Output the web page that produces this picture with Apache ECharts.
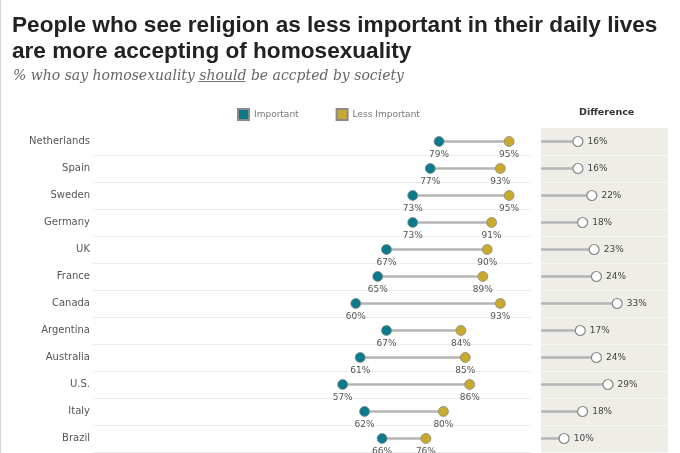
<!DOCTYPE html>
<html>
<head>
<meta charset="utf-8">
<script src="https://cdn.jsdelivr.net/npm/echarts@6/dist/echarts.min.js"></script>
<style>
html,body{margin:0;padding:0;background:#fff;}
#c{width:680px;height:453px;}
</style>
</head>
<body>
<div id="c"></div>
<script>
const countries = ['Netherlands','Spain','Sweden','Germany','UK','France','Canada','Argentina','Australia','U.S.','Italy','Brazil'];
const important = [79,77,73,73,67,65,60,67,61,57,62,66];
const lessImportant = [95,93,95,91,90,89,93,84,85,86,80,76];
const difference = [16,16,22,18,23,24,33,17,24,29,18,10];

const TEAL = '#0b7b8b';
const GOLD = '#c9aa2c';
const SANS = '"DejaVu Sans", Verdana, sans-serif';
const TITLE_FONT = '"Liberation Sans Narrow", "Arial Narrow", Arial, sans-serif';
const SERIF = '"DejaVu Serif", Georgia, serif';

const subA = '% who say homosexuality ';
const subU = 'should';
const subB = ' be accpted by society';
const subSize = 14;
const mctx = document.createElement('canvas').getContext('2d');
mctx.font = 'italic normal ' + subSize + 'px "DejaVu Serif"';
const wA = mctx.measureText(subA).width;
const wU = mctx.measureText(subU).width;
const ulX = 12, ulY = 81.5;

const chart = echarts.init(document.getElementById('c'), null, {renderer:'canvas'});

const connectorData = countries.map((c,i)=>[important[i], lessImportant[i], i]);
const skipTop = function(i){ return i > 0; };

chart.setOption({
  backgroundColor:'#fff',
  animation:false,
  title:[
    {text:'People who see religion as less important in their daily lives\nare more accepting of homosexuality',
     left:7, top:8,
     textStyle:{fontFamily:TITLE_FONT, fontSize:22.6, fontWeight:'bold', color:'#222', lineHeight:26}},
    {text:'{a|' + subA + '}{a|' + subU + '}{a|' + subB + '}',
     left:8, top:64,
     textStyle:{fontWeight:'normal', rich:{a:{fontFamily:SERIF, fontStyle:'italic', fontWeight:'normal', fontSize:subSize, color:'#666'}}}},
    {text:'Difference', left:574, top:103,
     textStyle:{fontFamily:SANS, fontSize:9.5, fontWeight:'bold', color:'#333'}}
  ],
  legend:{
    data:['Important','Less Important'],
    left:232, top:103, icon:'rect', itemWidth:11, itemHeight:11, itemGap:37,
    textStyle:{fontFamily:SANS, fontSize:9, color:'#777'}
  },
  graphic:[
    {type:'line', shape:{x1:ulX+wA, y1:ulY, x2:ulX+wA+wU, y2:ulY}, style:{stroke:'#777', lineWidth:1}},
    {type:'rect', shape:{x:0, y:0, width:1.2, height:453}, style:{fill:'#d8d8d8'}}
  ],
  grid:[
    {left:93, top:128, width:438, height:324, show:false},
    {left:541, top:128, width:127, height:324, show:true, backgroundColor:'#eeede6', borderWidth:0}
  ],
  xAxis:[
    {gridIndex:0, type:'value', min:0, max:100, show:false},
    {gridIndex:1, type:'value', min:0, max:55, show:false}
  ],
  yAxis:[
    {gridIndex:0, type:'category', data:countries, inverse:true,
     axisLine:{show:false}, axisTick:{show:false},
     axisLabel:{fontFamily:SANS, fontSize:10, color:'#555', margin:3},
     splitLine:{show:true, interval:skipTop, lineStyle:{color:'#ececec', width:1}}},
    {gridIndex:1, type:'category', data:countries, inverse:true,
     axisLine:{show:false}, axisTick:{show:false}, axisLabel:{show:false},
     splitLine:{show:true, interval:skipTop, lineStyle:{color:'#f8f8f4', width:1}}}
  ],
  series:[
    {type:'custom', xAxisIndex:0, yAxisIndex:0, silent:true,
     encode:{x:[0,1], y:2},
     data:connectorData,
     renderItem:function(params, api){
       const p1 = api.coord([api.value(0), api.value(2)]);
       const p2 = api.coord([api.value(1), api.value(2)]);
       return {type:'line', shape:{x1:p1[0], y1:p1[1], x2:p2[0], y2:p2[1]},
               style:{stroke:'#b5b5b5', lineWidth:2.5}};
     }},
    {name:'Important', type:'scatter', xAxisIndex:0, yAxisIndex:0,
     symbolSize:10, itemStyle:{color:TEAL, opacity:1, borderColor:'#8a8a8a', borderWidth:0.8},
     label:{show:true, position:'bottom', distance:3, fontFamily:SANS, fontSize:9, color:'#555',
            formatter:p=>p.value[0]+'%'},
     data:countries.map((c,i)=>[important[i], c])},
    {name:'Less Important', type:'scatter', xAxisIndex:0, yAxisIndex:0,
     symbolSize:10, itemStyle:{color:GOLD, opacity:1, borderColor:'#8a8a8a', borderWidth:0.8},
     label:{show:true, position:'bottom', distance:3, fontFamily:SANS, fontSize:9, color:'#555',
            formatter:p=>p.value[0]+'%'},
     data:countries.map((c,i)=>[lessImportant[i], c])},
    {name:'DiffLine', type:'bar', xAxisIndex:1, yAxisIndex:1, barWidth:2.5, silent:true,
     itemStyle:{color:'#b5b5b5'},
     data:difference},
    {name:'Diff', type:'scatter', xAxisIndex:1, yAxisIndex:1,
     symbolSize:10, itemStyle:{color:'#fff', opacity:1, borderColor:'#888', borderWidth:1.2},
     label:{show:true, position:'right', distance:4, fontFamily:SANS, fontSize:9, color:'#444',
            formatter:p=>p.value[0]+'%'},
     data:countries.map((c,i)=>[difference[i], c])}
  ]
});
</script>
</body>
</html>
